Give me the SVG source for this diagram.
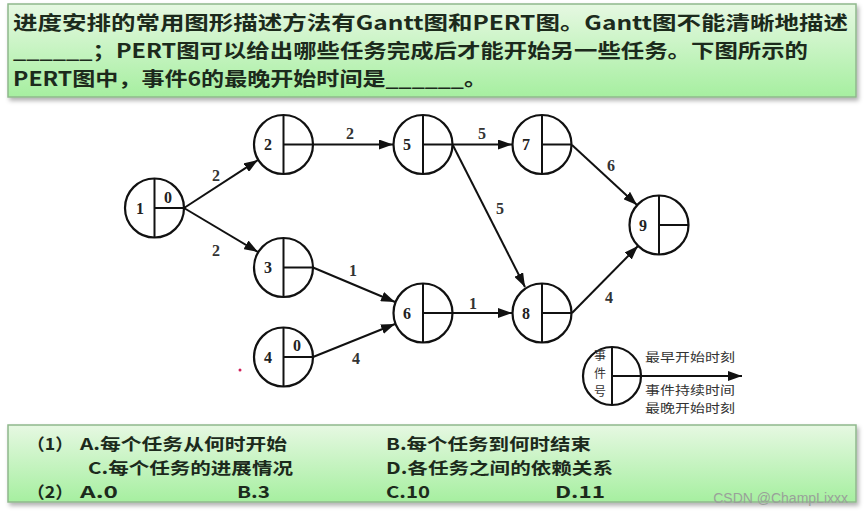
<svg xmlns="http://www.w3.org/2000/svg" width="865" height="517" viewBox="0 0 865 517">
<defs>
<linearGradient id="gbox" x1="0" y1="0" x2="0" y2="1">
<stop offset="0" stop-color="#e6f8e2"/>
<stop offset="1" stop-color="#a6efa0"/>
</linearGradient>
<filter id="sh" x="-5%" y="-10%" width="110%" height="130%">
<feDropShadow dx="2" dy="3" stdDeviation="2" flood-color="#000" flood-opacity="0.3"/>
</filter>
<marker id="arr" markerWidth="14" markerHeight="10" refX="14" refY="5" orient="auto" markerUnits="userSpaceOnUse">
<path d="M0,0 L14,5 L0,10 z" fill="#111"/>
</marker>
</defs>
<style>
.box{fill:url(#gbox);stroke:#8fb88c;stroke-width:1.5;filter:url(#sh)}
.q{font-family:"Noto Sans CJK SC","Liberation Sans",sans-serif;font-weight:bold;fill:#1c2a1c}
.t{font-size:19.2px}
.o{font-size:16.4px}
.node circle{fill:#fff;stroke:#111;stroke-width:2.2}
.node line{stroke:#111;stroke-width:2}
.num{font-family:"Liberation Serif",serif;font-weight:bold;font-size:16px;fill:#222;text-anchor:middle}
.edges line{stroke:#111;stroke-width:2;marker-end:url(#arr)}
.el{font-family:"Liberation Serif",serif;font-weight:bold;font-size:16px;fill:#333;text-anchor:middle}
.lg{font-family:"Noto Sans CJK SC",serif;font-size:12px;fill:#333}
</style>
<rect width="865" height="517" fill="#fff"/>

<g id="question">
<rect class="box" x="8" y="4" width="848" height="93"/>
<text class="q t" x="13" y="30" textLength="835" lengthAdjust="spacingAndGlyphs">进度安排的常用图形描述方法有Gantt图和PERT图。Gantt图不能清晰地描述</text>
<text class="q t" x="13" y="58" textLength="795" lengthAdjust="spacingAndGlyphs">______；PERT图可以给出哪些任务完成后才能开始另一些任务。下图所示的</text>
<text class="q t" x="13" y="86" textLength="474" lengthAdjust="spacingAndGlyphs">PERT图中，事件6的最晚开始时间是______。</text>
</g>

<g id="edges" class="edges">
<line x1="184" y1="208" x2="258" y2="160"/>
<line x1="184" y1="208" x2="258" y2="252"/>
<line x1="313" y1="144.5" x2="393" y2="144.5"/>
<line x1="313" y1="267.5" x2="395" y2="302"/>
<line x1="313" y1="357" x2="395" y2="324"/>
<line x1="452.5" y1="144.5" x2="512" y2="144.5"/>
<line x1="452.5" y1="144.5" x2="525" y2="287"/>
<line x1="452.5" y1="313" x2="512" y2="313"/>
<line x1="572" y1="145" x2="637" y2="205"/>
<line x1="572" y1="313" x2="638" y2="246"/>
<text class="el" x="216" y="181">2</text>
<text class="el" x="216" y="256">2</text>
<text class="el" x="350" y="139">2</text>
<text class="el" x="353" y="276">1</text>
<text class="el" x="356" y="364">4</text>
<text class="el" x="482" y="139">5</text>
<text class="el" x="500" y="214">5</text>
<text class="el" x="473" y="309">1</text>
<text class="el" x="611" y="171">6</text>
<text class="el" x="609" y="303">4</text>
</g>

<g id="n1" class="node"><circle cx="154.5" cy="208" r="29.5"/><line x1="154.5" y1="178.5" x2="154.5" y2="237.5"/><line x1="154.5" y1="208" x2="184" y2="208"/><text class="num" x="140" y="214">1</text><text class="num" x="168" y="203">0</text></g>
<g id="n2" class="node"><circle cx="283.5" cy="144.5" r="29.5"/><line x1="283.5" y1="115" x2="283.5" y2="174"/><line x1="283.5" y1="144.5" x2="313" y2="144.5"/><text class="num" x="268" y="150">2</text></g>
<g id="n3" class="node"><circle cx="283.5" cy="267.5" r="29.5"/><line x1="283.5" y1="238" x2="283.5" y2="297"/><line x1="283.5" y1="267.5" x2="313" y2="267.5"/><text class="num" x="268" y="273">3</text></g>
<g id="n4" class="node"><circle cx="283.5" cy="357" r="29.5"/><line x1="283.5" y1="327.5" x2="283.5" y2="386.5"/><line x1="283.5" y1="357" x2="313" y2="357"/><text class="num" x="268" y="363">4</text><text class="num" x="297" y="351">0</text></g>
<g id="n5" class="node"><circle cx="423" cy="144.5" r="29.5"/><line x1="423" y1="115" x2="423" y2="174"/><line x1="423" y1="144.5" x2="452.5" y2="144.5"/><text class="num" x="407" y="150">5</text></g>
<g id="n6" class="node"><circle cx="423" cy="313" r="29.5"/><line x1="423" y1="283.5" x2="423" y2="342.5"/><line x1="423" y1="313" x2="452.5" y2="313"/><text class="num" x="407" y="319">6</text></g>
<g id="n7" class="node"><circle cx="542" cy="144.5" r="29.5"/><line x1="542" y1="115" x2="542" y2="174"/><line x1="542" y1="144.5" x2="571.5" y2="144.5"/><text class="num" x="526" y="150">7</text></g>
<g id="n8" class="node"><circle cx="542" cy="313" r="29.5"/><line x1="542" y1="283.5" x2="542" y2="342.5"/><line x1="542" y1="313" x2="571.5" y2="313"/><text class="num" x="526" y="319">8</text></g>
<g id="n9" class="node"><circle cx="659" cy="225" r="29.5"/><line x1="659" y1="195.5" x2="659" y2="254.5"/><line x1="659" y1="225" x2="688.5" y2="225"/><text class="num" x="643" y="231">9</text></g>

<circle cx="240" cy="370" r="1.5" fill="#d0205a"/>

<g id="legend" class="node">
<circle cx="612" cy="376" r="29"/>
<line x1="612" y1="347" x2="612" y2="405"/>
<line x1="612" y1="376" x2="742" y2="376" style="marker-end:url(#arr)"/>
<text class="lg" x="600" y="360" text-anchor="middle">事</text>
<text class="lg" x="600" y="378" text-anchor="middle">件</text>
<text class="lg" x="600" y="396" text-anchor="middle">号</text>
<text class="lg" x="645" y="362" textLength="90" lengthAdjust="spacingAndGlyphs">最早开始时刻</text>
<text class="lg" x="645" y="395" textLength="90" lengthAdjust="spacingAndGlyphs">事件持续时间</text>
<text class="lg" x="645" y="413" textLength="90" lengthAdjust="spacingAndGlyphs">最晚开始时刻</text>
</g>

<g id="options">
<rect class="box" x="8" y="425" width="848" height="77"/>
<text class="q o" x="27" y="450" textLength="46" lengthAdjust="spacingAndGlyphs">（1）</text>
<text class="q o" x="80" y="450" textLength="207" lengthAdjust="spacingAndGlyphs">A.每个任务从何时开始</text>
<text class="q o" x="386" y="450" textLength="205" lengthAdjust="spacingAndGlyphs">B.每个任务到何时结束</text>
<text class="q o" x="88" y="474" textLength="205" lengthAdjust="spacingAndGlyphs">C.每个任务的进展情况</text>
<text class="q o" x="386" y="474" textLength="227" lengthAdjust="spacingAndGlyphs">D.各任务之间的依赖关系</text>
<text class="q o" x="27" y="498" textLength="46" lengthAdjust="spacingAndGlyphs">（2）</text>
<text class="q o" x="80" y="498" textLength="38" lengthAdjust="spacingAndGlyphs">A.0</text>
<text class="q o" x="237" y="498" textLength="33" lengthAdjust="spacingAndGlyphs">B.3</text>
<text class="q o" x="386" y="498" textLength="44" lengthAdjust="spacingAndGlyphs">C.10</text>
<text class="q o" x="555" y="498" textLength="50" lengthAdjust="spacingAndGlyphs">D.11</text>
<text x="848" y="503" font-family="Liberation Sans, sans-serif" font-size="14" fill="#9aa09a" text-anchor="end">CSDN @ChampLixxx</text>
</g>
</svg>
